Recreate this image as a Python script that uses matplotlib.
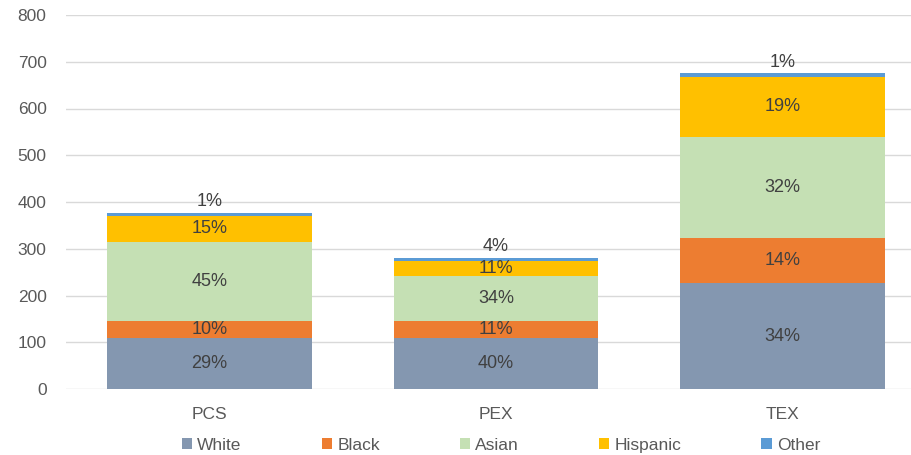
import numpy as np
import matplotlib
matplotlib.use('Agg')
import matplotlib.pyplot as plt

# Data
programs = ['PCS', 'PEX', 'TEX']
groups = ['White', 'Black', 'Asian', 'Hispanic', 'Other']
white = [109, 109, 226]
black = [37, 36, 98]
asian = [169, 96, 216]
hispanic = [56, 32, 128]
other = [5, 7, 7]
pct_labels = {
    'White': ['29%', '40%', '34%'],
    'Black': ['10%', '11%', '14%'],
    'Asian': ['45%', '34%', '32%'],
    'Hispanic': ['15%', '11%', '19%'],
    'Other': ['1%', '4%', '1%'],
}
colors = ['#8497B0', '#ED7D31', '#C5E0B4', '#FFC000', '#5B9BD5']

plt.rcParams['font.family'] = ['Liberation Sans', 'DejaVu Sans']

fig = plt.figure(figsize=(9.11, 4.55), dpi=100)
ax = fig.add_axes([66 / 911, (455 - 389) / 455, (911 - 66) / 911, (389 - 15) / 455])

x = np.arange(len(programs))
series = [white, black, asian, hispanic, other]
bottom = np.zeros(len(programs))
for name, vals, col in zip(groups, series, colors):
    vals = np.array(vals, dtype=float)
    ax.bar(x, vals, width=0.714, bottom=bottom, color=col, label=name, zorder=3)
    for i in range(len(programs)):
        if name == 'Other':
            ax.text(x[i], bottom[i] + vals[i] + 6, pct_labels[name][i], ha='center', va='bottom',
                    fontsize=13, color='#404040', zorder=4)
        else:
            ax.text(x[i], bottom[i] + vals[i] / 2, pct_labels[name][i], ha='center', va='center',
                    fontsize=13, color='#404040', zorder=4)
    bottom += vals

ax.set_ylim(0, 800)
ax.set_xlim(-0.5, 2.448)
ax.set_yticks(np.arange(0, 801, 100))
ax.set_xticks(x)
ax.set_xticklabels(programs)
ax.grid(axis='y', color='#D9D9D9', linewidth=1, zorder=0)
for s in ['top', 'right', 'left', 'bottom']:
    ax.spines[s].set_visible(False)
ax.tick_params(axis='both', length=0, colors='#595959', labelsize=12.5)
ax.tick_params(axis='y', pad=14)
ax.tick_params(axis='x', pad=13)

fig.legend(loc='lower center', bbox_to_anchor=(0.55, -0.03), ncol=5, frameon=False,
           handlelength=0.6, handleheight=0.6, handletextpad=0.3, columnspacing=4.6,
           fontsize=12.5, labelcolor='#595959')

fig.savefig('out.png', dpi=100)
